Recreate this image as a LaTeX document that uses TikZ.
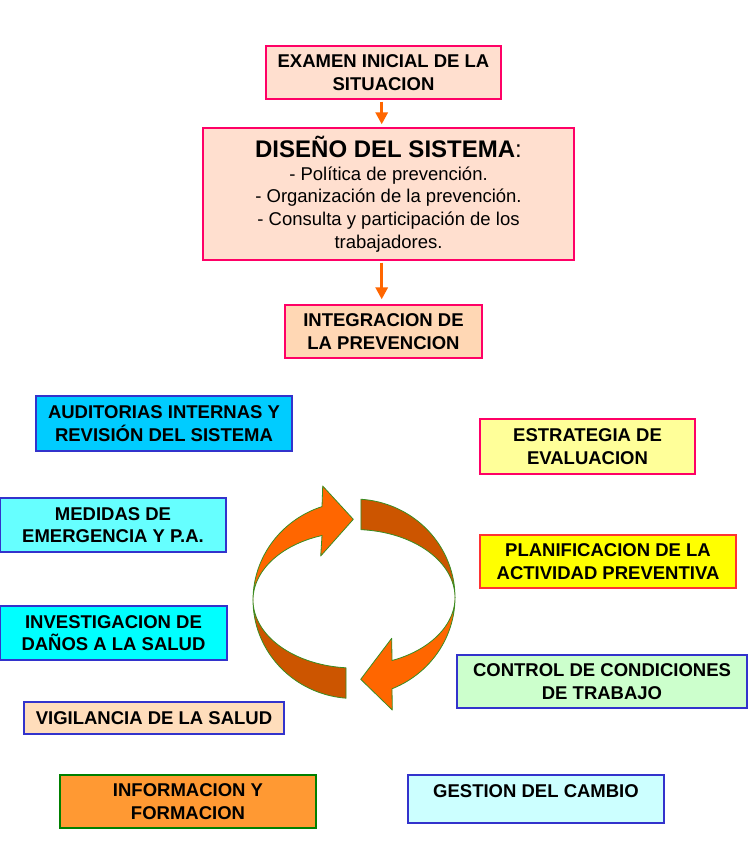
\documentclass[tikz,border=0pt]{standalone}
\usepackage{fontspec}
\setmainfont{Liberation Sans}
\usetikzlibrary{arrows.meta}
\definecolor{pinkb}{HTML}{FF0066}
\definecolor{blueb}{HTML}{3333CC}
\definecolor{redb}{HTML}{FF3333}
\definecolor{greenb}{HTML}{008000}
\definecolor{peachA}{HTML}{FFDFCF}
\definecolor{peachB}{HTML}{FFD7B4}
\definecolor{peachC}{HTML}{FFDDBB}
\definecolor{cyanA}{HTML}{00CCFF}
\definecolor{cyanB}{HTML}{66FFFF}
\definecolor{cyanC}{HTML}{00FFFF}
\definecolor{cyanD}{HTML}{CCFFFF}
\definecolor{yelA}{HTML}{FFFF99}
\definecolor{yelB}{HTML}{FFFF00}
\definecolor{grnA}{HTML}{CCFFCC}
\definecolor{oraA}{HTML}{FF9933}
\definecolor{arrowor}{HTML}{FF6600}
\definecolor{darkor}{HTML}{CC5500}
\definecolor{ringline}{HTML}{3A8C22}
\tikzset{
  boxbase/.style={draw, line width=1.3pt, inner sep=0pt, align=center,
    font=\fontsize{18.5}{22.7}\selectfont\bfseries},
  pinkbox/.style={boxbase, draw=pinkb},
  bluebox/.style={boxbase, draw=blueb},
  flowarrow/.style={draw=arrowor, line width=3pt,
    -{Triangle[width=12pt,length=12pt]}},
  ringedge/.style={draw=ringline, line width=0.8pt, line join=round}
}
\begin{document}
\begin{tikzpicture}[x=1pt,y=-1pt]
\useasboundingbox (0,0) rectangle (749,866);
% top flow
\node[pinkbox, fill=peachA, minimum width=235, minimum height=53] (examen) at (383.5,72.5)
  {EXAMEN INICIAL DE LA\\SITUACION};
\node[pinkbox, fill=peachA, minimum width=371, minimum height=132, font=\fontsize{18.5}{22.7}\selectfont] (diseno) at (388.5,194)
  {{\fontsize{24}{24}\selectfont\bfseries DISEÑO DEL SISTEMA}{\fontsize{24}{24}\selectfont :}\\
   - Política de prevención.\\
   - Organización de la prevención.\\
   - Consulta y participación de los\\
   trabajadores.};
\node[pinkbox, fill=peachB, minimum width=197, minimum height=53] (integ) at (383.5,331.5)
  {INTEGRACION DE\\LA PREVENCION};
\coordinate (ax) at (381.7,0);
\draw[flowarrow, shorten <=2pt, shorten >=3pt] (ax |- examen.south) -- (ax |- diseno.north);
\draw[flowarrow, shorten <=2pt, shorten >=5pt] (ax |- diseno.south) -- (ax |- integ.north);
% left boxes
\node[bluebox, fill=cyanA, minimum width=256, minimum height=55] (audit) at (164,423.5)
  {AUDITORIAS INTERNAS Y\\REVISIÓN DEL SISTEMA};
\node[bluebox, fill=cyanB, minimum width=226, minimum height=54] (medidas) at (113,525)
  {MEDIDAS DE\\EMERGENCIA Y P.A.};
\node[bluebox, fill=cyanC, minimum width=227, minimum height=54] (invest) at (113.5,633)
  {INVESTIGACION DE\\DAÑOS A LA SALUD};
\node[bluebox, fill=peachC, minimum width=260, minimum height=32] (vigil) at (154,718)
  {VIGILANCIA DE LA SALUD};
\node[boxbase, draw=greenb, fill=oraA, minimum width=256, minimum height=53] (inform) at (188,801.5)
  {INFORMACION Y\\FORMACION};
% right boxes
\node[pinkbox, fill=yelA, minimum width=215, minimum height=55] (estrat) at (587.5,446.5)
  {ESTRATEGIA DE\\EVALUACION};
\node[boxbase, draw=redb, fill=yelB, minimum width=256, minimum height=53] (planif) at (608,561.5)
  {PLANIFICACION DE LA\\ACTIVIDAD PREVENTIVA};
\node[bluebox, fill=grnA, minimum width=290, minimum height=53] (control) at (602,681.5)
  {CONTROL DE CONDICIONES\\DE TRABAJO};
\node[bluebox, fill=cyanD, minimum width=256, minimum height=48,
  label={[anchor=center, yshift=-17pt, font=\fontsize{18.5}{22.7}\selectfont\bfseries]north:GESTION DEL CAMBIO}] (gestion) at (536,799) {};
% circular arrows
\filldraw[fill=darkor, ringedge]
  plot[domain=94.54:180, samples=40] ({354+101*cos(\x)},{600+98.5*sin(\x)})
  -- plot[domain=180:94.54, samples=40] ({354+101*cos(\x)},{600+68*sin(\x)}) -- cycle;
\filldraw[fill=darkor, ringedge]
  plot[domain=-86.03:0, samples=40] ({354+101*cos(\x)},{597.5+98.5*sin(\x)})
  -- plot[domain=0:-86.03, samples=40] ({354+101*cos(\x)},{597.5+68*sin(\x)}) -- cycle;
\filldraw[fill=arrowor, ringedge]
  plot[domain=180:251.53, samples=40] ({354+101*cos(\x)},{600+98.5*sin(\x)})
  -- (322.7,486) -- (353.3,519.3) -- (320.7,556)
  -- plot[domain=251.53:180, samples=40] ({354+101*cos(\x)},{600+68*sin(\x)}) -- cycle;
\filldraw[fill=arrowor, ringedge]
  plot[domain=0:67.9, samples=40] ({354+101*cos(\x)},{597.5+98.5*sin(\x)})
  -- (392.3,710) -- (360.7,679.3) -- (391.7,638.3)
  -- plot[domain=67.9:0, samples=40] ({354+101*cos(\x)},{597.5+68*sin(\x)}) -- cycle;
\end{tikzpicture}
\end{document}
